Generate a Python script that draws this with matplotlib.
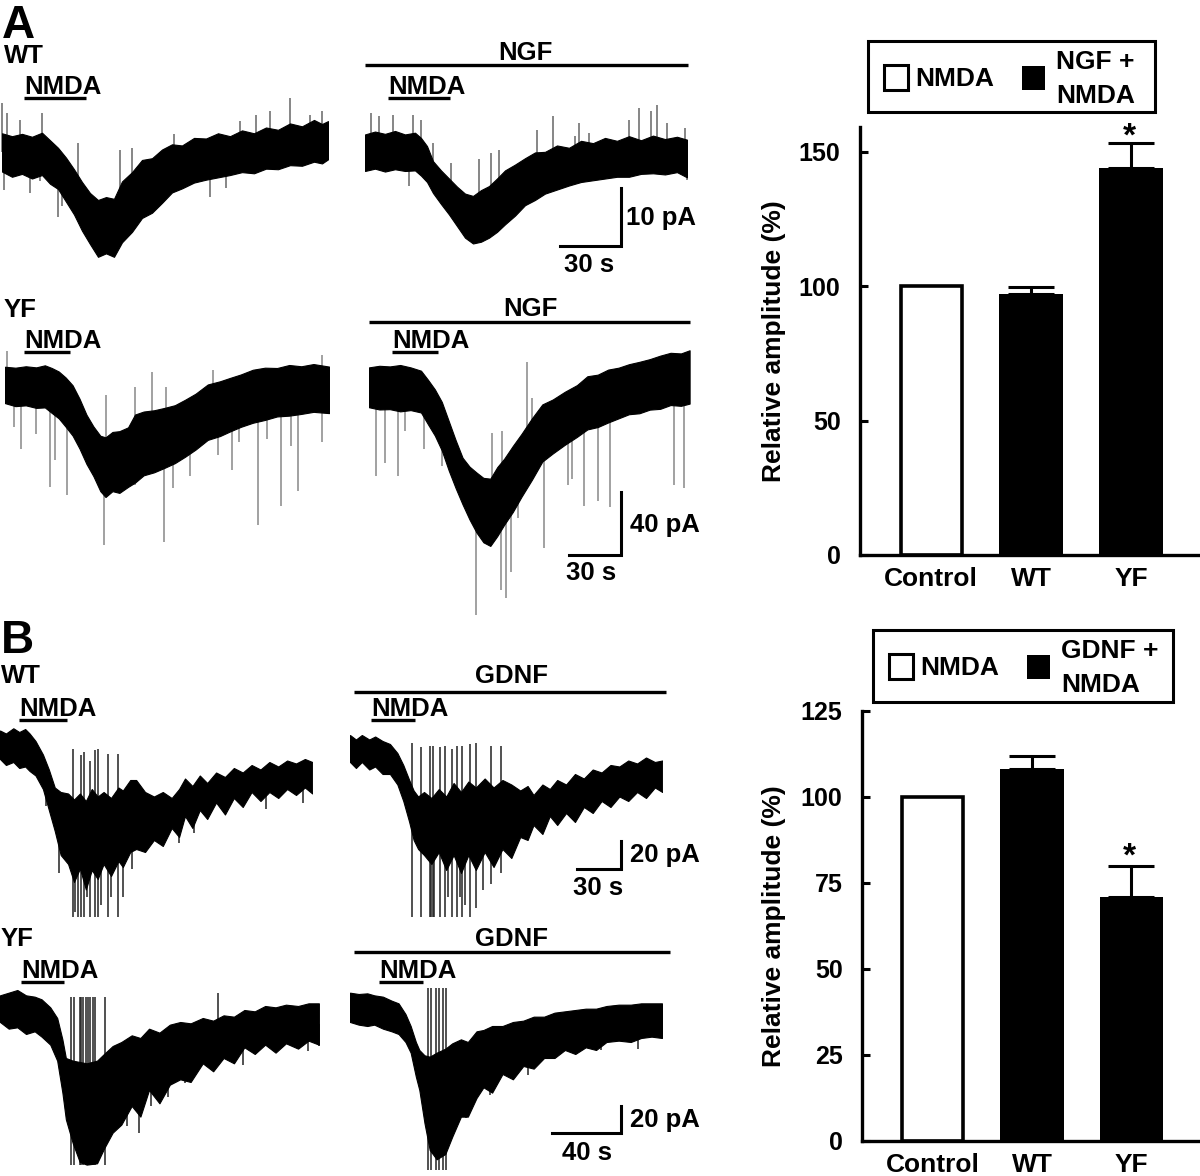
import matplotlib
matplotlib.use("Agg")
import numpy as np
import matplotlib.pyplot as plt
from matplotlib.patches import Rectangle

plt.rcParams['font.family'] = ['Liberation Sans', 'DejaVu Sans']
plt.rcParams['font.weight'] = 'bold'

W, H = 1200, 1176

# bar chart values
groups = ["Control", "WT", "YF"]
ngf_amp = [100, 97.3, 144]
ngf_err = [0, 2.3, 9.5]
gdnf_amp = [100, 108, 71]
gdnf_err = [0, 4, 9]

# traces: time (s), upper and lower edge of the noise band (pA), spikes (s, pA)
a_wt_t = [0, 5, 10, 15, 20, 24, 28, 32, 36, 40, 44, 48, 52, 56, 60, 65, 70, 75, 80, 85, 90, 96, 102, 108, 114, 120, 126, 132, 138, 144, 150, 156, 160, 163]
a_wt_top = [3.4, 2.9, 3.3, 2.8, 3.5, 2.2, 0.9, -0.8, -2.8, -5.0, -6.9, -8.1, -7.6, -7.9, -4.9, -3.3, -1.2, -0.9, 0.6, 1.5, 1.3, 2.6, 2.5, 3.4, 2.9, 3.9, 3.4, 4.4, 4.0, 5.1, 4.6, 5.7, 5.0, 5.5]
a_wt_bot = [-3.2, -4.1, -3.6, -4.4, -3.8, -5.3, -6.2, -8.4, -10.6, -13.4, -15.7, -17.9, -17.3, -17.9, -15.4, -13.6, -11.2, -10.3, -8.6, -6.8, -6.1, -5.1, -4.6, -4.2, -3.8, -3.3, -3.5, -2.7, -2.8, -2.1, -2.2, -1.5, -1.8, -1.1]
a_wt_st = [0, 2.3, 9, 20, 38, 59, 65, 86, 119, 127, 134, 144, 154, 160, 1, 14, 19, 28, 104, 112, 30]
a_wt_si = [8.6, 6.9, 5.7, 6.9, 1.7, 0.6, 0.9, 3.2, 5.5, 6.6, 7.2, 9.4, 6.6, 7.2, -6.3, -6.9, -4.9, -11, -7.5, -6.0, -9.2]

a_ngf_t = [0, 5, 10, 15, 20, 25, 28, 31, 34, 38, 42, 46, 50, 54, 58, 62, 66, 70, 75, 80, 85, 90, 96, 102, 108, 114, 120, 126, 132, 138, 144, 150, 156, 161]
a_ngf_top = [3.2, 3.7, 3.3, 3.8, 3.2, 3.5, 2.6, 1.2, -1.4, -3.0, -4.4, -5.8, -7.0, -7.4, -6.4, -5.7, -4.4, -3.0, -2.0, -0.9, 0.1, 0.2, 1.3, 0.9, 2.1, 1.7, 2.6, 2.1, 2.9, 2.2, 3.0, 2.4, 2.8, 2.3]
a_ngf_bot = [-3.1, -2.7, -3.2, -2.8, -3.1, -3.0, -3.9, -5.0, -6.9, -8.8, -10.6, -12.6, -14.6, -15.6, -15.3, -14.6, -13.6, -12.3, -10.8, -9.0, -8.1, -7.0, -6.3, -5.6, -5.0, -4.7, -4.4, -4.1, -4.1, -3.6, -3.5, -3.7, -3.3, -4.2]
a_ngf_st = [3, 7, 14, 24, 28, 34, 43, 57, 63, 67, 86, 94, 105, 107, 112, 132, 137, 143, 146, 151, 160, 22, 161]
a_ngf_si = [6.9, 6.3, 6.6, 6.6, 5.7, 1.7, -1.7, -1.1, 0, 0.6, 4.0, 6.3, 2.9, 5.2, 3.4, 5.7, 7.8, 7.2, 8.2, 5.2, 4.3, -5.7, -4.6]

a_yf_t = [0, 6, 12, 18, 23, 27, 31, 35, 39, 43, 47, 51, 55, 58, 62, 66, 71, 75, 80, 86, 92, 98, 104, 110, 117, 124, 130, 136, 143, 150, 157, 164, 171, 178, 187]
a_yf_top = [12.8, 12.2, 13.1, 12.4, 13.7, 12.0, 9.8, 6.0, 1.1, -7.4, -17.5, -24.9, -30.8, -31.8, -28.4, -27.9, -25.5, -17.4, -15.5, -14.7, -13.2, -11.5, -8.0, -4.2, 1.6, 3.6, 5.8, 7.9, 10.9, 12.2, 12.0, 13.9, 13.1, 14.5, 12.9]
a_yf_bot = [-10.2, -12.1, -11.6, -13.2, -12.9, -16.4, -19.8, -25.1, -30.7, -38.9, -48.6, -56.3, -65.8, -69.5, -65.8, -66.9, -63.1, -60.4, -55.8, -53.9, -51.1, -48.1, -44.0, -39.5, -33.4, -31.0, -28.0, -25.2, -22.6, -20.8, -18.6, -18.1, -17.0, -15.7, -16.5]
a_yf_st = [5, 9, 18, 26, 29, 36, 57, 75, 92, 97, 107, 123, 131, 146, 159, 165, 169, 183, 135, 151,
           1, 58, 75, 85, 93, 120, 183]
a_yf_si = [-25, -39, -30, -63, -46, -68, -99.6, -62, -98, -64, -56, -43, -52.6, -87.4, -75, -37, -66, -35, -35, -33,
           23, -5, 0, 9.5, 0, 10.5, 20]

a_yfn_t = [0, 6, 12, 18, 24, 30, 34, 38, 42, 46, 50, 54, 58, 62, 66, 70, 74, 78, 83, 88, 94, 100, 106, 113, 120, 126, 132, 138, 144, 150, 156, 162, 168, 174, 180, 185]
a_yfn_top = [12.4, 13.4, 13.0, 13.9, 12.4, 10.3, 4.6, -1.5, -9.4, -21.5, -33.6, -44.7, -50.3, -54.0, -57.4, -57.9, -50.6, -45.3, -37.2, -29.6, -19.8, -11.0, -7.9, -3.0, 1.2, 6.8, 7.8, 11.0, 12.2, 14.4, 15.9, 17.6, 19.8, 21.6, 21.2, 23.2]
a_yfn_bot = [-12.8, -14.2, -14.0, -15.4, -14.6, -16.1, -23.5, -30.7, -40.1, -52.7, -63.9, -74.2, -83.7, -91.9, -98.1, -100.4, -94.2, -87.0, -78.9, -69.3, -58.6, -47.1, -42.0, -36.5, -31.5, -26.8, -25.3, -22.4, -19.8, -17.2, -16.6, -14.3, -13.8, -11.4, -11.9, -10.5]
a_yfn_st = [4, 9, 17, 21, 32, 42, 62, 76, 79, 82, 86, 101, 115, 117, 124, 132, 139, 176, 182, 71, 77, 91, 94]
a_yfn_si = [-56, -48, -56, -28, -39, -50, -144, -128, -133, -117, -83, -102, -62, -58, -75, -72, -76, -62, -64, -29, -28, 16, -7]

b_wt_t = [0, 4, 9, 13, 17, 20, 24, 29, 33, 37, 41, 46, 50, 54, 58, 62, 66, 70, 75, 80, 83, 88, 92, 98, 104, 110, 116, 121, 125, 130, 135, 140, 146, 152, 158, 164, 170, 176, 182, 188, 194, 200, 206, 211]
b_wt_top = [11, 9, 12.5, 10, 12, 9, 4, -5, -15, -27, -30, -31, -35, -31, -36, -28, -33, -30, -34, -27, -29, -22, -22, -30, -33, -30, -34, -28, -21, -26, -19, -24, -17, -20, -14, -17, -12, -15, -10, -13, -9, -11, -8, -10]
b_wt_bot = [-8, -12, -10, -14, -13, -16, -19, -28, -42, -56, -72, -78, -90, -81, -95, -82, -88, -78, -86, -76, -80, -70, -68, -70, -62, -66, -54, -60, -46, -54, -42, -48, -37, -45, -34, -40, -30, -36, -30, -34, -28, -32, -27, -31]
b_wt_st = [49, 55, 57, 61, 64, 66, 73, 79.5, 49, 51, 53, 55, 57, 59, 61, 64, 66, 68, 73, 75, 79.5, 40, 89, 83, 31, 121, 131, 180, 205]
b_wt_si = [-1, -5.5, -3, -9, -2, -1, -4.4, -4.4, -113, -110, -113, -113, -113, -100, -113, -113, -113, -105, -113, -100, -113, -84, -81, -100, -39, -64, -57, -41, -37]

b_gd_t = [0, 4, 8, 13, 17, 22, 27, 32, 36, 40, 43, 46, 50, 55, 60, 65, 70, 75, 80, 85, 91, 97, 103, 109, 115, 120, 124, 130, 135, 140, 146, 152, 158, 164, 170, 176, 182, 188, 194, 200, 206, 211]
b_gd_top = [8, 5, 8, 5, 7, 4, 2, -4, -12, -22, -29, -33, -30, -34, -28, -33, -24, -30, -23, -27, -21, -27, -22, -25, -29, -26, -32, -25, -28, -22, -25, -18, -21, -15, -17, -12, -13, -9, -11, -7, -10, -9]
b_gd_bot = [-10, -14, -10, -15, -13, -18, -18, -25, -36, -50, -62, -68, -72, -78, -70, -82, -72, -84, -72, -82, -70, -80, -68, -74, -60, -62, -52, -58, -46, -52, -44, -50, -40, -44, -36, -40, -33, -36, -30, -34, -27, -30]
b_gd_st = [42, 48, 54, 56, 61, 64, 69, 72, 76, 81, 85, 95, 102, 42, 48, 54, 55, 56, 57, 61, 64, 66, 69, 72, 74, 76, 78, 81, 85, 90, 95, 102]
b_gd_si = [3, 0, 1, 1, 0, 1, -1, 1, 1, 2, 3, 1, 1, -113, -113, -113, -113, -113, -113, -113, -113, -100, -113, -113, -100, -113, -105, -113, -107, -95, -91, -84]

b_yf_t = [0, 5, 10, 15, 20, 24, 29, 33, 36, 38, 42, 46, 50, 56, 60, 65, 70, 76, 81, 86, 92, 98, 104, 110, 117, 123, 129, 135, 141, 147, 153, 159, 165, 172, 178, 184]
b_yf_top = [11, 13, 15, 11, 10, 8, 2, -6, -22, -36, -38, -39, -40, -38, -33, -27, -24, -19, -21, -14, -17, -11, -9, -10, -6, -8, -4, -5, 0, -1, 3, 2, 4, 3, 5, 5]
b_yf_bot = [-9, -14, -13, -18, -16, -20, -26, -38, -62, -82, -100, -114, -116, -115, -104, -92, -86, -72, -80, -60, -70, -56, -52, -54, -40, -46, -36, -40, -28, -33, -26, -32, -25, -29, -23, -26]
b_yf_st = [41, 42.5, 46, 47, 48, 49.5, 51, 52, 53.5, 55, 60.6, 41, 42.5, 46, 47, 48, 49.5, 51, 52, 53.5, 55, 60.6,
           126, 80, 73, 87, 97, 107, 140, 178, 184]
b_yf_si = [10, 10, 10, 10, 10, 10, 10, 10, 10, 10, 10, -116, -116, -116, -116, -116, -116, -116, -116, -116, -116, -116,
           12.5, -92, -87, -72, -65, -55, -41, -31, -27]

b_yg_t = [0, 5, 10, 14, 19, 24, 28, 32, 35, 38, 40, 43, 46, 50, 55, 59, 64, 68, 73, 77, 82, 88, 94, 100, 106, 112, 118, 124, 130, 136, 142, 148, 155, 162, 168, 174, 180]
b_yg_top = [13, 12, 12.5, 11, 10, 7, 5, -3, -12, -24, -30, -34, -35, -32, -29, -25, -22, -24, -16, -15, -12, -12, -9, -8, -5, -5, -2, -1, 0, 1, 1, 3, 4, 4, 5, 5, 5]
b_yg_bot = [-9, -11, -12, -11, -14, -16, -18, -24, -32, -50, -60, -85, -105, -112, -108, -95, -80, -80, -66, -58, -62, -48, -52, -42, -44, -36, -36, -30, -33, -28, -30, -24, -23, -24, -21, -20, -21]
b_yg_st = [45, 46.5, 49.6, 51.4, 53.5, 55.6, 45, 46.5, 49.6, 51.4, 53.5, 55.6, 67, 81, 103, 166, 145]
b_yg_si = [16.8, 16.8, 16.8, 16.8, 16.8, 16.8, -120, -120, -120, -120, -120, -120, -81, -64, -49, -29, -30]


def trace(left, zero, px_s, px_pa, t, top, bot, st, si, spike_col):
    # one axes per trace, scaled from seconds and pA onto the page
    dur = t[-1]
    up, down = 120, 170
    ax = fig.add_axes([left / W, 1 - (zero + down) / H, dur * px_s / W, (up + down) / H])
    ax.set_xlim(0, dur)
    ax.set_ylim(-down / px_pa, up / px_pa)
    ax.axis('off')
    ax.patch.set_alpha(0)
    mid = np.interp(st, t, (np.array(top) + np.array(bot)) / 2)
    ax.vlines(st, mid, si, color=spike_col, lw=1.1, clip_on=False, zorder=1)
    ax.fill_between(t, bot, top, color='black', lw=0.8, zorder=3)


def bars(rect, top, ticks, amp, err):
    ax = fig.add_axes(rect)
    ax.bar(0, amp[0], width=0.61, color='white', edgecolor='black', lw=2.6)
    ax.bar([1, 2], amp[1:], width=0.64, color='black')
    ax.errorbar([1, 2], amp[1:], yerr=[[0, 0], err[1:]], fmt='none', ecolor='black',
                elinewidth=2.2, capsize=16.5, capthick=2.2)
    ax.set_xlim(-0.71, 2.69)
    ax.set_ylim(0, top)
    ax.set_yticks(ticks)
    ax.set_xticks([0, 1, 2], groups)
    ax.tick_params(axis='y', direction='in', length=6, width=2.2, labelsize=18, pad=14)
    ax.tick_params(axis='x', length=0, labelsize=19, pad=9)
    ax.spines[['top', 'right']].set_visible(False)
    ax.spines[['left', 'bottom']].set_linewidth(2.4)
    ax.set_ylabel("Relative amplitude (%)", fontsize=19, fontweight='bold')
    return ax


fig = plt.figure(figsize=(12, 11.76), dpi=100)

trace(2, 153, 2.0, 5.8, a_wt_t, a_wt_top, a_wt_bot, a_wt_st, a_wt_si, '#666666')
trace(365, 153, 2.0, 5.8, a_ngf_t, a_ngf_top, a_ngf_bot, a_ngf_st, a_ngf_si, '#666666')
trace(5, 387, 1.733, 1.583, a_yf_t, a_yf_top, a_yf_bot, a_yf_st, a_yf_si, '#888888')
trace(369, 387, 1.733, 1.583, a_yfn_t, a_yfn_top, a_yfn_bot, a_yfn_st, a_yfn_si, '#888888')
trace(0, 747, 1.48, 1.5, b_wt_t, b_wt_top, b_wt_bot, b_wt_st, b_wt_si, '#222222')
trace(350, 747, 1.48, 1.5, b_gd_t, b_gd_top, b_gd_bot, b_gd_st, b_gd_si, '#222222')
trace(0, 1010, 1.733, 1.333, b_yf_t, b_yf_top, b_yf_bot, b_yf_st, b_yf_si, '#222222')
trace(350, 1010, 1.733, 1.333, b_yg_t, b_yg_top, b_yg_bot, b_yg_st, b_yg_si, '#222222')

ax_a = bars([860 / W, 1 - 555 / H, 340 / W, 428 / H], 159.3, [0, 50, 100, 150], ngf_amp, ngf_err)
ax_a.yaxis.set_label_coords(-0.218, 0.5)
ax_b = bars([862 / W, 1 - 1141 / H, 338 / W, 430 / H], 125, [0, 25, 50, 75, 100, 125], gdnf_amp, gdnf_err)
ax_b.yaxis.set_label_coords(-0.225, 0.5)

# page overlay for the labels, scale bars and legend boxes, in pixels
pg = fig.add_axes([0, 0, 1, 1])
pg.set_xlim(0, W)
pg.set_ylim(H, 0)
pg.axis('off')
pg.patch.set_alpha(0)


def txt(x, y, s, size=18.5, ha='left'):
    pg.text(x, y, s, fontsize=size, ha=ha, va='baseline')


def rule(x0, x1, y):
    pg.plot([x0, x1], [y, y], color='black', lw=2.4, solid_capstyle='butt')


def scale_bar(x0, x1, y0, y1):
    pg.plot([x0, x1, x1], [y1, y1, y0], color='black', lw=2.2, solid_joinstyle='miter')


def legend_box(x0, x1, y0, y1, sq1, sq2, name):
    pg.add_patch(Rectangle((x0, y0), x1 - x0, y1 - y0, fc='white', ec='black', lw=2.2))
    pg.add_patch(Rectangle((sq1, y0 + 24), 24, 25, fc='white', ec='black', lw=2.2))
    pg.add_patch(Rectangle((sq2, y0 + 25), 23, 24, fc='black', ec='black', lw=0))
    txt(sq1 + 31, y0 + 45, "NMDA", 19)
    txt(sq2 + 34, y0 + 28, name + " +", 19)
    txt(sq2 + 34, y0 + 62, "NMDA", 19)


txt(2, 38, "A", 33)
txt(1, 653, "B", 33)
txt(4, 63, "WT")
txt(4, 317, "YF")
txt(1, 683, "WT")
txt(1, 946, "YF")

for x, base, end in [(24, 94, 86), (388, 94, 450), (24, 348, 70), (392, 348, 438),
                     (19, 716, 67), (371, 716, 415), (21, 978, 64), (379, 978, 423)]:
    txt(x, base, "NMDA")
    rule(x, end, base + 4)

for name, xc, base, x0, x1, y in [("NGF", 525, 60, 365, 688, 65), ("NGF", 530, 316, 369, 690, 322),
                                  ("GDNF", 511, 683, 354, 666, 692), ("GDNF", 512, 946, 354, 670, 952)]:
    txt(xc, base, name, ha='center')
    rule(x0, x1, y)

scale_bar(560, 621, 188, 246)
txt(626, 225, "10 pA")
txt(564, 272, "30 s")
scale_bar(569, 621, 492, 555)
txt(630, 532, "40 pA")
txt(566, 580, "30 s")
scale_bar(577, 621, 841, 869)
txt(630, 862, "20 pA")
txt(573, 895, "30 s")
scale_bar(552, 621, 1106, 1133)
txt(630, 1127, "20 pA")
txt(562, 1160, "40 s")

legend_box(868, 1155, 41, 112, 884, 1022, "NGF")
legend_box(873, 1173, 630, 702, 889, 1027, "GDNF")

txt(1129, 146, "*", 24, ha='center')
txt(1129, 866, "*", 24, ha='center')

fig.savefig("out.png", dpi=100, facecolor='white')
